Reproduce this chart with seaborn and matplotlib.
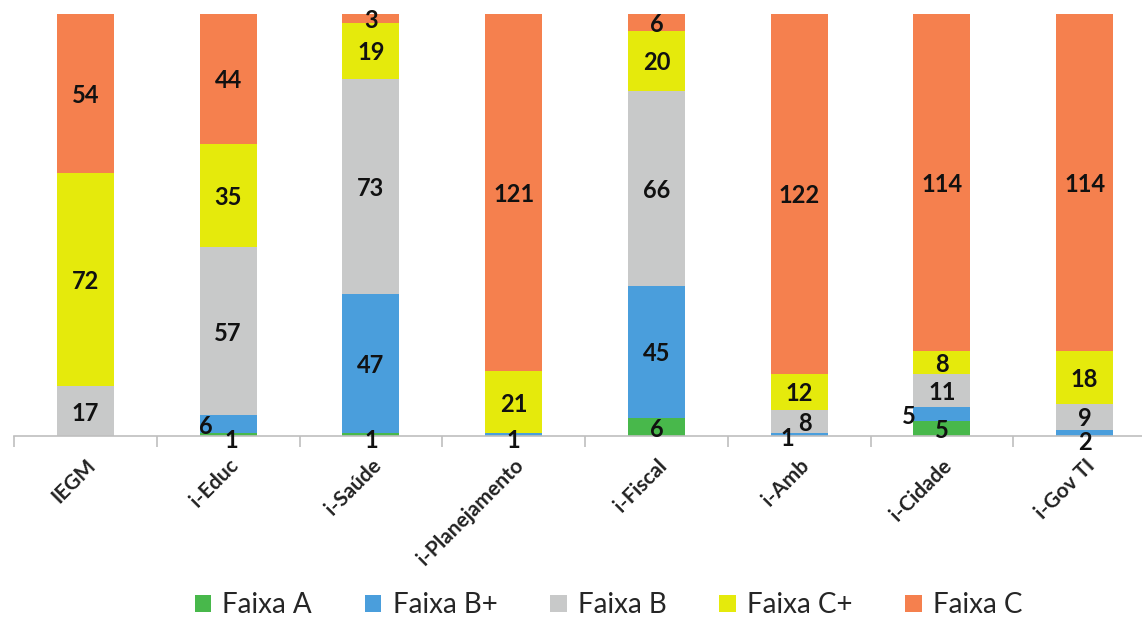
import numpy as np
import pandas as pd
import matplotlib
matplotlib.use('Agg')
import matplotlib.pyplot as plt
from matplotlib.patches import Patch
import seaborn as sns

categories = ['IEGM', 'i-Educ', 'i-Saúde', 'i-Planejamento', 'i-Fiscal', 'i-Amb', 'i-Cidade', 'i-Gov TI']
series_names = ['Faixa A', 'Faixa B+', 'Faixa B', 'Faixa C+', 'Faixa C']
faixa_a = [0, 1, 1, 0, 6, 0, 5, 0]
faixa_b_plus = [0, 6, 47, 1, 45, 1, 5, 2]
faixa_b = [17, 57, 73, 0, 66, 8, 11, 9]
faixa_c_plus = [72, 35, 19, 21, 20, 12, 8, 18]
faixa_c = [54, 44, 3, 121, 6, 122, 114, 114]

colors = ['#48b84b', '#4a9edc', '#c8c9c9', '#e5ea0c', '#f5804e']

sns.set_theme(style='white')
plt.rcParams['font.family'] = ['Lato', 'DejaVu Sans']

df = pd.DataFrame({'categoria': categories, 'Faixa A': faixa_a, 'Faixa B+': faixa_b_plus,
                   'Faixa B': faixa_b, 'Faixa C+': faixa_c_plus, 'Faixa C': faixa_c})
cum = df[series_names].cumsum(axis=1)

fig = plt.figure(figsize=(11.42, 6.24), dpi=100)
# axis runs off the right edge, like the cropped original
ax = fig.add_axes([0.0123, 0.301, 1.0, 0.677])

# draw cumulative totals from the top layer down so the stacks overlap correctly
for name, col in reversed(list(zip(series_names, colors))):
    sns.barplot(x=df['categoria'], y=cum[name], color=col, saturation=1, width=0.4,
                order=categories, ax=ax, edgecolor='none')

# small nudges for crowded labels (as in the original)
nudge = {('i-Educ', 'Faixa B+'): (-0.16, 0), ('i-Cidade', 'Faixa B+'): (-0.23, 0),
         ('i-Amb', 'Faixa B'): (0.04, 0), ('i-Amb', 'Faixa B+'): (-0.08, -0.5),
         ('i-Gov TI', 'Faixa B+'): (0, -2.4), ('i-Educ', 'Faixa A'): (0.02, -1.2),
         ('i-Saúde', 'Faixa A'): (0, -1.2), ('i-Planejamento', 'Faixa B+'): (0, -1.2)}

for i, cat in enumerate(categories):
    base = 0
    for name in series_names:
        v = df.loc[i, name]
        if v > 0:
            dx, dy = nudge.get((cat, name), (0, 0))
            ax.text(i + dx, base + v / 2 + dy, str(v), ha='center', va='center_baseline',
                    fontsize=17, fontweight='bold', color='#111111')
        base += v

ax.set_ylim(0, 143)
ax.set_xlim(-0.5, len(categories) - 0.5)
ax.set_yticks([])
ax.set_xlabel('')
ax.set_ylabel('')
for s in ['top', 'right', 'left']:
    ax.spines[s].set_visible(False)
ax.spines['bottom'].set_color('#bfbfbf')
ax.spines['bottom'].set_linewidth(1.2)

ax.set_xticks(range(len(categories)))
ax.set_xticklabels(categories, rotation=45, ha='right', rotation_mode='anchor',
                   fontsize=15, fontweight='bold', color='#222222')
ax.tick_params(axis='x', which='major', length=0, pad=14)
ax.set_xticks(np.arange(-0.5, len(categories), 1), minor=True)
ax.tick_params(axis='x', which='minor', length=8, color='#bfbfbf', width=1.2, bottom=True)

handles = [Patch(facecolor=c, edgecolor='none', label=n) for n, c in zip(series_names, colors)]
fig.legend(handles=handles, loc='center', bbox_to_anchor=(0.533, 0.03), ncol=5, frameon=False,
           fontsize=20, handlelength=0.6, handleheight=0.6, handletextpad=0.4, columnspacing=1.9)

fig.savefig('out.png', dpi=100)
